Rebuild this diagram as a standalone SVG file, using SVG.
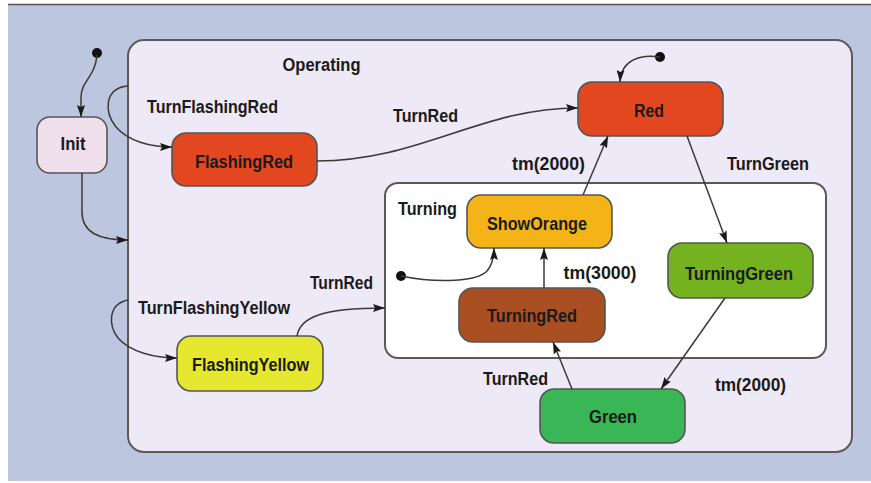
<svg xmlns="http://www.w3.org/2000/svg" width="871" height="483" viewBox="0 0 871 483">
<style>
.state{stroke:#555;stroke-width:1.6}
.comp{stroke:#5a5a5a;stroke-width:2}
.lbl{font-family:"Liberation Sans",Arial,sans-serif;font-weight:bold;font-size:18px;fill:#1a1a1a;text-anchor:middle}
.conn path{fill:none;stroke:#3a3a3a;stroke-width:1.5}
.dot{fill:#111}
</style>
<defs>
<marker id="arr" viewBox="0 0 12 8" refX="12" refY="4" markerWidth="12" markerHeight="8" markerUnits="userSpaceOnUse" orient="auto">
<path d="M0,0 L12,4 L0,8 L2,4 z" fill="#1a1a1a"/>
</marker>
</defs>
<rect x="0" y="0" width="871" height="483" fill="#ffffff"/>
<rect x="8" y="5" width="863" height="476" fill="#bcc6df"/>
<line x1="8" y1="4.5" x2="871" y2="4.5" stroke="#555" stroke-width="1.5"/>

<g id="Operating">
<rect class="comp" x="128" y="40" width="724" height="412" rx="16" fill="#eee9f6"/>
<text class="lbl" x="321.5" y="71" textLength="78" lengthAdjust="spacingAndGlyphs">Operating</text>
</g>

<g id="Turning">
<rect class="comp" x="385" y="183" width="441" height="175" rx="13" fill="#ffffff"/>
<text class="lbl" x="427.5" y="215" textLength="59" lengthAdjust="spacingAndGlyphs">Turning</text>
</g>

<g id="Init">
<rect class="state" x="37" y="117" width="70" height="56" rx="13" fill="#efdfea"/>
<text class="lbl" x="73" y="150" textLength="25" lengthAdjust="spacingAndGlyphs">Init</text>
</g>

<g id="FlashingRed">
<rect class="state" x="172" y="133" width="145" height="53" rx="14" fill="#e2471f"/>
<text class="lbl" x="244" y="168" textLength="98" lengthAdjust="spacingAndGlyphs">FlashingRed</text>
</g>

<g id="Red">
<rect class="state" x="578" y="82" width="145" height="54" rx="14" fill="#e2471f"/>
<text class="lbl" x="649" y="117" textLength="30" lengthAdjust="spacingAndGlyphs">Red</text>
</g>

<g id="ShowOrange">
<rect class="state" x="467" y="195" width="145" height="53" rx="14" fill="#f4b417"/>
<text class="lbl" x="537" y="230" textLength="100" lengthAdjust="spacingAndGlyphs">ShowOrange</text>
</g>

<g id="TurningRed">
<rect class="state" x="459" y="288" width="146" height="54" rx="14" fill="#a94f22"/>
<text class="lbl" x="532" y="322" textLength="90" lengthAdjust="spacingAndGlyphs">TurningRed</text>
</g>

<g id="TurningGreen">
<rect class="state" x="668" y="243" width="145" height="55" rx="14" fill="#75b21f"/>
<text class="lbl" x="739" y="280" textLength="108" lengthAdjust="spacingAndGlyphs">TurningGreen</text>
</g>

<g id="Green">
<rect class="state" x="540" y="389" width="145" height="54" rx="14" fill="#39b655"/>
<text class="lbl" x="613" y="423" textLength="48" lengthAdjust="spacingAndGlyphs">Green</text>
</g>

<g id="FlashingYellow">
<rect class="state" x="177" y="336" width="146" height="55" rx="14" fill="#e5e82f"/>
<text class="lbl" x="250.5" y="371" textLength="117" lengthAdjust="spacingAndGlyphs">FlashingYellow</text>
</g>

<g id="Initial1"><circle class="dot" cx="97" cy="53" r="5"/></g>
<g id="Initial2"><circle class="dot" cx="660" cy="57" r="5"/></g>
<g id="Initial3"><circle class="dot" cx="401" cy="276" r="5"/></g>

<g id="connectors" class="conn">
<path d="M97,55 C95,78 81,80 81,98 L81,117" marker-end="url(#arr)"/>
<path d="M82,173 L82,212 C82,232 98,240 128,240" marker-end="url(#arr)"/>
<path d="M128,86 C104,88 104,112 116,127 C128,141 150,147 172,147" marker-end="url(#arr)"/>
<path d="M317,161 C420,161 480,108 578,108" marker-end="url(#arr)"/>
<path d="M660,57 C640,54 621,60 620,82" marker-end="url(#arr)"/>
<path d="M583,195 L608,136" marker-end="url(#arr)"/>
<path d="M687,136 L727,243" marker-end="url(#arr)"/>
<path d="M725,298 L661,389" marker-end="url(#arr)"/>
<path d="M572,389 L553,342" marker-end="url(#arr)"/>
<path d="M544,288 L544,248" marker-end="url(#arr)"/>
<path d="M401,276 C440,284 478,281 487,271 C492,265 494,258 494,248" marker-end="url(#arr)"/>
<path d="M128,300 C108,304 108,325 118,338 C130,352 155,358 177,358" marker-end="url(#arr)"/>
<path d="M297,336 C300,318 320,308 385,308" marker-end="url(#arr)"/>
</g>

<g id="labels">
<text class="lbl" x="212.5" y="113" textLength="131" lengthAdjust="spacingAndGlyphs">TurnFlashingRed</text>
<text class="lbl" x="425.5" y="122" textLength="65" lengthAdjust="spacingAndGlyphs">TurnRed</text>
<text class="lbl" x="548.5" y="170" textLength="73" lengthAdjust="spacingAndGlyphs">tm(2000)</text>
<text class="lbl" x="768" y="170" textLength="82" lengthAdjust="spacingAndGlyphs">TurnGreen</text>
<text class="lbl" x="600" y="279" textLength="73" lengthAdjust="spacingAndGlyphs">tm(3000)</text>
<text class="lbl" x="515.5" y="385" textLength="65" lengthAdjust="spacingAndGlyphs">TurnRed</text>
<text class="lbl" x="750.5" y="391" textLength="71" lengthAdjust="spacingAndGlyphs">tm(2000)</text>
<text class="lbl" x="214" y="314" textLength="152" lengthAdjust="spacingAndGlyphs">TurnFlashingYellow</text>
<text class="lbl" x="341.5" y="289" textLength="63" lengthAdjust="spacingAndGlyphs">TurnRed</text>
</g>
</svg>
